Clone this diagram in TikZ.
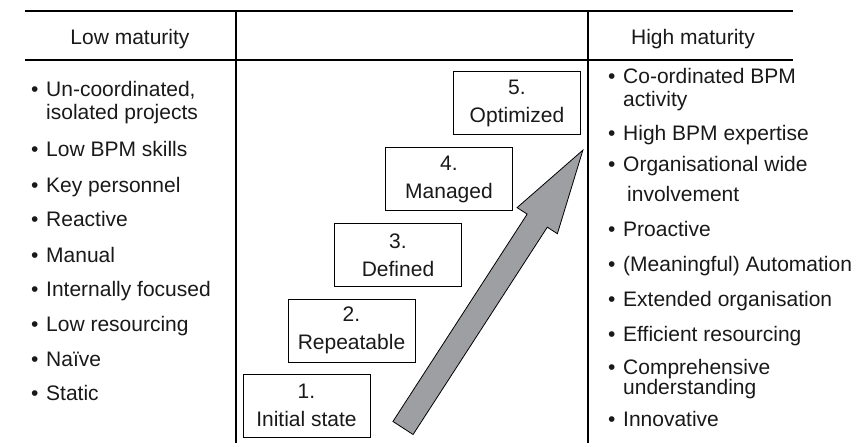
\documentclass[tikz,border=0pt]{standalone}
\usepackage{fontspec}
\setmainfont{Liberation Sans}
\usepackage{xcolor}
\usetikzlibrary{positioning}

\definecolor{arrowgray}{RGB}{158,159,163}
\newcommand{\bul}{\makebox[15pt][l]{\textbullet}}
\newcommand{\ind}{\hspace*{15pt}}
% two lines, baseline on the first one
\newcommand{\twoline}[3]{\vtop{\baselineskip=#1\hbox{#2}\hbox{#3}}}

\begin{document}
\begin{tikzpicture}[
    x=1pt, y=1pt,
    every node/.style={font=\fontsize{21}{22}\selectfont, text=black!90},
    rule/.style={line width=1.3pt},
    head/.style={anchor=base, inner sep=0pt},
    item/.style={anchor=base west, inner sep=0pt},
    stage/.style={rectangle, draw, line width=0.9pt, align=center, inner sep=0pt,
                  minimum width=127pt, minimum height=63pt,
                  font=\fontsize{21}{28}\selectfont},
    bigarrow/.style={draw, line width=0.8pt, fill=arrowgray, line join=miter}
  ]
  \useasboundingbox (0,0) rectangle (863,443);

  % table rules
  \draw[rule] (25,432) -- (793,432);
  \draw[rule] (25,383) -- (793,383);
  \draw[rule] (236,432) -- (236,0);
  \draw[rule] (588,432) -- (588,0);

  \node[head] (low) at (130,398) {Low maturity};
  \node[head] (high) at (693,398) {High maturity};

  % low maturity column
  \node[item] (lo1) at (31,346) {\twoline{23pt}{\bul Un-coordinated,}{\ind isolated projects}};
  \node[item] (lo2) at (31,286) {\bul Low BPM skills};
  \node[item] (lo3) at (31,250) {\bul Key personnel};
  \node[item] (lo4) at (31,216) {\bul Reactive};
  \node[item] (lo5) at (31,180) {\bul Manual};
  \node[item] (lo6) at (31,146) {\bul Internally focused};
  \node[item] (lo7) at (31,111) {\bul Low resourcing};
  \node[item] (lo8) at (31,76) {\bul Naïve};
  \node[item] (lo9) at (31,42) {\bul Static};

  % maturity stages
  \node[stage] (s1) at (306.5,37.5) {1.\\Initial state};
  \node[stage] (s2) at (351.5,112.5) {2.\\Repeatable};
  \node[stage] (s3) at (398,188) {3.\\Defined};
  \node[stage] (s4) at (449,264) {4.\\Managed};
  \node[stage] (s5) at (517,340) {5.\\Optimized};

  \begin{scope}[shift={(403,15)}, rotate=57.08]
    \draw[bigarrow] (0,-12) -- (247,-12) -- (247,-24) -- (331,0)
      -- (247,24) -- (247,12) -- (0,12) -- cycle;
  \end{scope}

  % high maturity column
  \node[item] (hi1) at (608,359) {\twoline{23pt}{\bul Co-ordinated BPM}{\ind activity}};
  \node[item] (hi2) at (608,302) {\bul High BPM expertise};
  \node[item] (hi3) at (608,271) {\twoline{30pt}{\bul Organisational wide}{\hspace*{19pt}involvement}};
  \node[item] (hi4) at (608,206) {\bul Proactive};
  \node[item] (hi5) at (608,171) {\bul (Meaningful) Automation};
  \node[item] (hi6) at (608,136) {\bul Extended organisation};
  \node[item] (hi7) at (608,101) {\bul Efficient resourcing};
  \node[item] (hi8) at (608,68) {\twoline{20pt}{\bul Comprehensive}{\ind understanding}};
  \node[item] (hi9) at (608,16) {\bul Innovative};

\end{tikzpicture}
\end{document}
